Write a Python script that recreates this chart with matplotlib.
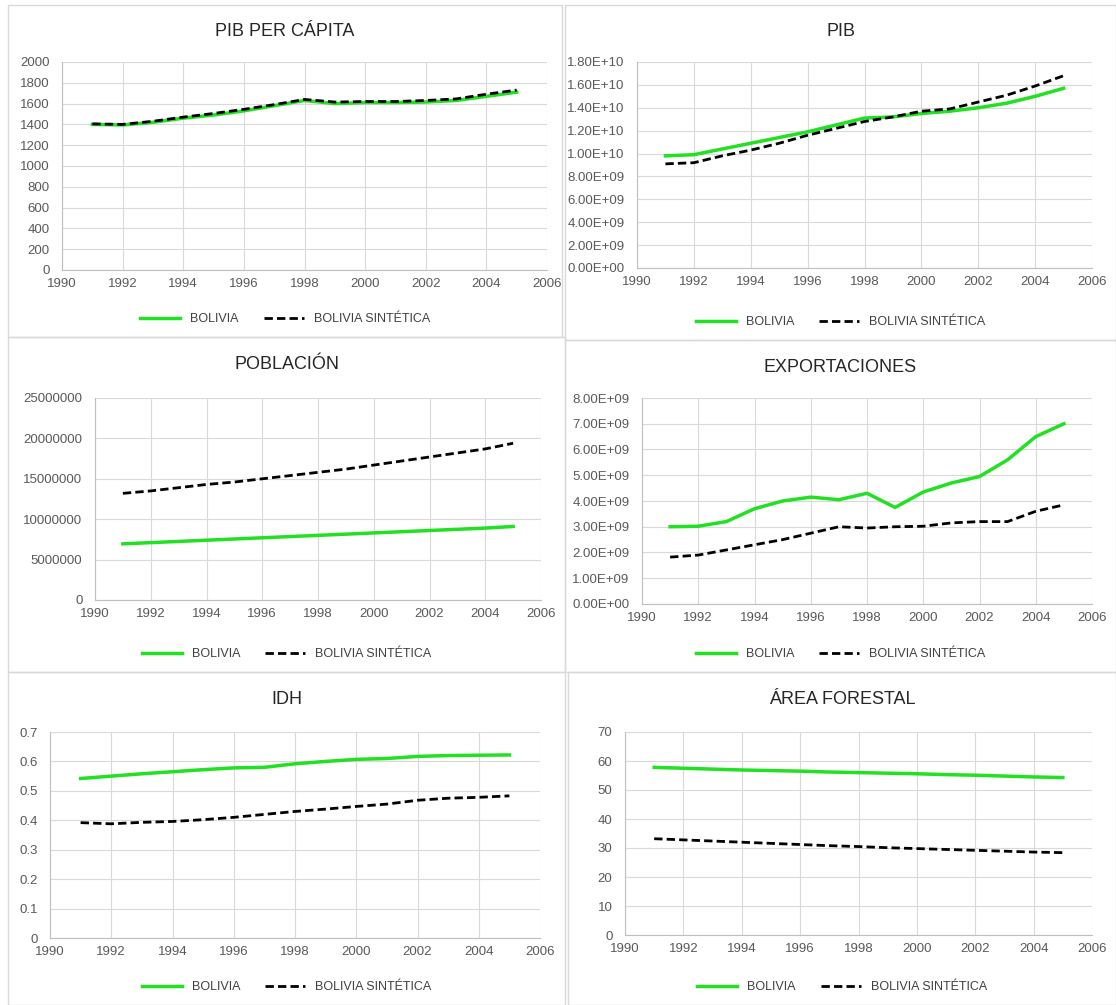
import matplotlib.pyplot as plt
from matplotlib.patches import Rectangle
from matplotlib.ticker import FuncFormatter

plt.rcParams["font.family"] = ["Liberation Sans", "DejaVu Sans"]

years = list(range(1991, 2006))

pibpc_bol = [1400, 1395, 1420, 1460, 1490, 1530, 1580, 1630, 1600, 1610, 1610, 1615, 1630, 1670, 1710]
pibpc_syn = [1405, 1400, 1430, 1470, 1505, 1545, 1590, 1640, 1615, 1620, 1620, 1630, 1645, 1690, 1730]

pib_bol = [0.98e10, 0.99e10, 1.04e10, 1.09e10, 1.14e10, 1.19e10, 1.25e10, 1.31e10, 1.32e10, 1.35e10, 1.37e10, 1.40e10, 1.44e10, 1.50e10, 1.57e10]
pib_syn = [0.91e10, 0.92e10, 0.98e10, 1.03e10, 1.09e10, 1.16e10, 1.22e10, 1.28e10, 1.32e10, 1.37e10, 1.39e10, 1.45e10, 1.51e10, 1.59e10, 1.68e10]

pob_bol = [6.95e6, 7.1e6, 7.25e6, 7.4e6, 7.55e6, 7.7e6, 7.85e6, 8.0e6, 8.15e6, 8.3e6, 8.45e6, 8.6e6, 8.75e6, 8.9e6, 9.1e6]
pob_syn = [13.2e6, 13.5e6, 13.9e6, 14.3e6, 14.6e6, 15.0e6, 15.4e6, 15.8e6, 16.2e6, 16.7e6, 17.2e6, 17.7e6, 18.2e6, 18.7e6, 19.4e6]

exp_bol = [3.0e9, 3.02e9, 3.2e9, 3.7e9, 4.0e9, 4.15e9, 4.05e9, 4.3e9, 3.75e9, 4.35e9, 4.7e9, 4.95e9, 5.6e9, 6.5e9, 7.0e9]
exp_syn = [1.82e9, 1.9e9, 2.1e9, 2.3e9, 2.5e9, 2.75e9, 3.0e9, 2.95e9, 3.0e9, 3.02e9, 3.15e9, 3.2e9, 3.2e9, 3.6e9, 3.85e9]

idh_bol = [0.542, 0.55, 0.558, 0.565, 0.572, 0.578, 0.58, 0.592, 0.6, 0.607, 0.61, 0.617, 0.62, 0.621, 0.622]
idh_syn = [0.392, 0.388, 0.393, 0.396, 0.402, 0.41, 0.42, 0.43, 0.438, 0.447, 0.455, 0.468, 0.475, 0.478, 0.483]

for_bol = [57.8, 57.5, 57.2, 56.9, 56.7, 56.5, 56.2, 56.0, 55.8, 55.6, 55.3, 55.1, 54.8, 54.5, 54.3]
for_syn = [33.2, 32.8, 32.4, 32.0, 31.6, 31.2, 30.8, 30.5, 30.1, 29.8, 29.5, 29.2, 28.9, 28.6, 28.4]

W, H = 1116, 1005
fig = plt.figure(figsize=(W / 100, H / 100), dpi=100)

sci = FuncFormatter(lambda v, p: f"{v:.2E}")
plain = FuncFormatter(lambda v, p: f"{v:.0f}")
onedec = FuncFormatter(lambda v, p: "0" if v == 0 else f"{v:.1f}")

# (title, bol, syn, ymax, ystep, formatter, panel box px, axes box px)
panels = [
    ("PIB PER CÁPITA", pibpc_bol, pibpc_syn, 2000, 200, plain, (8, 5, 562, 337), (62, 62, 547, 270)),
    ("PIB", pib_bol, pib_syn, 1.8e10, 0.2e10, sci, (565, 5, 1116, 340), (637, 62, 1092, 268)),
    ("POBLACIÓN", pob_bol, pob_syn, 25e6, 5e6, plain, (8, 337, 565, 672), (95, 398, 541, 600)),
    ("EXPORTACIONES", exp_bol, exp_syn, 8e9, 1e9, sci, (565, 340, 1116, 672), (642, 398, 1092, 604)),
    ("IDH", idh_bol, idh_syn, 0.7, 0.1, onedec, (8, 672, 565, 1005), (50, 732, 540, 938)),
    ("ÁREA FORESTAL", for_bol, for_syn, 70, 10, plain, (568, 672, 1116, 1005), (625, 732, 1092, 935)),
]

for title, bol, syn, ymax, ystep, fmt, pbox, abox in panels:
    px0, py0, px1, py1 = pbox
    fig.patches.append(Rectangle((px0 / W, 1 - py1 / H), (px1 - px0) / W, (py1 - py0) / H,
                                 transform=fig.transFigure, fill=False, edgecolor="#D9D9D9", lw=1))
    x0, y0, x1, y1 = abox
    ax = fig.add_axes([x0 / W, 1 - y1 / H, (x1 - x0) / W, (y1 - y0) / H])
    ax.plot(years, bol, color="#22E022", lw=2.5, label="BOLIVIA")
    ax.plot(years, syn, color="black", lw=2, ls=(0, (3, 1.5)), label="BOLIVIA SINTÉTICA")
    ax.set_xlim(1990, 2006)
    ax.set_xticks(range(1990, 2007, 2))
    n = round(ymax / ystep)
    ax.set_ylim(0, ymax)
    ax.set_yticks([i * ystep for i in range(n + 1)])
    ax.yaxis.set_major_formatter(fmt)
    ax.grid(True, color="#D9D9D9", lw=0.8)
    ax.set_axisbelow(True)
    for s in ["top", "right"]:
        ax.spines[s].set_visible(False)
    for s in ["left", "bottom"]:
        ax.spines[s].set_color("#BFBFBF")
    ax.tick_params(length=0, labelsize=9.5, colors="#595959")
    ax.tick_params(axis="y", pad=9)
    ax.tick_params(axis="x", pad=6)
    cx = (px0 + px1) / 2 / W
    fig.text(cx, 1 - (py0 + 27) / H, title, ha="center", va="center", fontsize=13, color="#262626")
    ax.legend(loc="center", bbox_to_anchor=((px0 + px1) / 2 / W, 1 - (py1 - 18) / H),
              bbox_transform=fig.transFigure, ncol=2, frameon=False, fontsize=9,
              handlelength=3.2, columnspacing=2.0, labelcolor="#404040")

fig.savefig("out.png", dpi=100, facecolor="white")
